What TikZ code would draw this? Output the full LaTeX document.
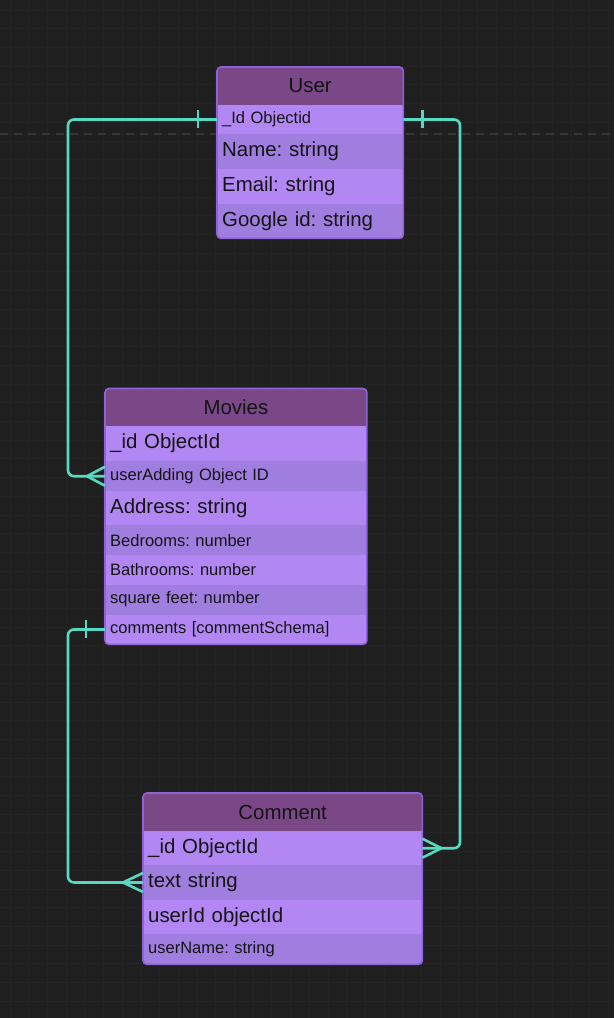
\documentclass[tikz,border=0pt]{standalone}
\usepackage{fontspec}
\setmainfont{Liberation Sans}
\usetikzlibrary{calc}
\definecolor{bg}{HTML}{1F1F1F}
\definecolor{gridc}{HTML}{242424}
\definecolor{dashc}{HTML}{363636}
\definecolor{hdr}{HTML}{7A4787}
\definecolor{rowa}{HTML}{B287F4}
\definecolor{rowb}{HTML}{A07EDF}
\definecolor{bord}{HTML}{8F62DA}
\definecolor{teal}{HTML}{56D9C2}
\definecolor{ink}{HTML}{141414}
\frenchspacing
\begin{document}
\frenchspacing
\begin{tikzpicture}[x=1pt,y=-1pt,
  big/.style={font=\fontsize{20.4}{22}\selectfont\frenchspacing},
  small/.style={font=\fontsize{16.5}{18}\selectfont\frenchspacing},
  hdrbox/.style={fill=hdr, anchor=north west, inner sep=0pt, text=ink, big},
  rowbox/.style={anchor=north west, inner xsep=5pt, inner ysep=0pt, align=left, text=ink},
  ra/.style={rowbox, fill=rowa},
  rb/.style={rowbox, fill=rowb},
  frame/.style={draw=bord, line width=1.6pt, rounded corners=4pt},
  conn/.style={draw=teal, line width=2.6pt, rounded corners=6pt},
  foot/.style={draw=teal, line width=2.6pt},
  tickline/.style={draw=teal, line width=2.6pt}
]
\useasboundingbox (0,0) rectangle (614,1018);
\fill[bg] (0,0) rectangle (614,1018);
\foreach \i in {0,...,33} \draw[gridc, line width=0.8pt] (10+18.7*\i,0) -- ++(0,1018);
\foreach \j in {0,...,54} \draw[gridc, line width=0.8pt] (0,10+18.7*\j) -- ++(614,0);
\draw[dashc, line width=1.6pt, dash pattern=on 8pt off 6pt] (0,134) -- (614,134);

% ---------- User ----------
\begin{scope}
\clip[rounded corners=4pt] (217,67) rectangle (403,238);
\node[hdrbox, minimum width=186pt, minimum height=37.5pt] (uh) at (217,67) {User};
\node[ra, small, text width=176pt, minimum height=29.5pt] (uid) at (217,104.5) {\_Id Objectid};
\node[rb, big, text width=176pt, minimum height=35pt] (unm) at (217,134) {Name: string};
\node[ra, big, text width=176pt, minimum height=34.5pt] (uem) at (217,169) {Email: string};
\node[rb, big, text width=176pt, minimum height=34.5pt] (ugo) at (217,203.5) {Google id: string};
\end{scope}
\draw[frame] (uh.north west) rectangle (ugo.south east);

% ---------- Movies ----------
\begin{scope}
\clip[rounded corners=4pt] (105,388.5) rectangle (366.5,644);
\node[hdrbox, minimum width=261.5pt, minimum height=37.5pt] (mh) at (105,388.5) {Movies};
\node[ra, big, text width=251.5pt, minimum height=35pt] (mid) at (105,426) {\_id ObjectId};
\node[rb, small, text width=251.5pt, minimum height=30pt] (mua) at (105,461) {userAdding Object ID};
\node[ra, big, text width=251.5pt, minimum height=34pt] (mad) at (105,491) {Address: string};
\node[rb, small, text width=251.5pt, minimum height=30pt] (mbe) at (105,525) {Bedrooms: number};
\node[ra, small, text width=251.5pt, minimum height=29.5pt] (mba) at (105,555) {Bathrooms: number};
\node[rb, small, text width=251.5pt, minimum height=30pt] (msq) at (105,584.5) {square feet: number};
\node[ra, small, text width=251.5pt, minimum height=29.5pt] (mcm) at (105,614.5) {comments [commentSchema]};
\end{scope}
\draw[frame] (mh.north west) rectangle (mcm.south east);

% ---------- Comment ----------
\begin{scope}
\clip[rounded corners=4pt] (143,793) rectangle (422,964);
\node[hdrbox, minimum width=279pt, minimum height=38pt] (ch) at (143,793) {Comment};
\node[ra, big, text width=269pt, minimum height=34pt] (cid) at (143,831) {\_id ObjectId};
\node[rb, big, text width=269pt, minimum height=34.5pt] (ctx) at (143,865) {text string};
\node[ra, big, text width=269pt, minimum height=34.5pt] (cui) at (143,899.5) {userId objectId};
\node[rb, small, text width=269pt, minimum height=30pt] (cun) at (143,934) {userName: string};
\end{scope}
\draw[frame] (ch.north west) rectangle (cun.south east);

% ---------- connectors ----------
\coordinate (kl) at (68,0);
\coordinate (kr) at (460,0);
% User _Id -> Movies userAdding
\draw[conn] (uid.west) -| (kl |- mua.west) -- (mua.west);
\draw[tickline] ($(uid.west)+(-19,-9)$) -- ($(uid.west)+(-19,9)$);
\draw[foot] ($(mua.west)+(0,-9.5)$) -- ($(mua.west)+(-18,0)$) -- ($(mua.west)+(0,9.5)$);
% User _Id -> Comment _id
\draw[conn] (uid.west -| uh.east) -| (kr |- cid.east) -- (cid.east);
\draw[tickline] ($(uid.west -| uh.east)+(19,-9)$) -- ($(uid.west -| uh.east)+(19,9)$);
\draw[foot] ($(cid.east)+(0,-9.5)$) -- ($(cid.east)+(19,0)$) -- ($(cid.east)+(0,9.5)$);
% Movies comments -> Comment text
\draw[conn] (mcm.west) -| (kl |- ctx.west) -- (ctx.west);
\draw[tickline] ($(mcm.west)+(-19,-9)$) -- ($(mcm.west)+(-19,9)$);
\draw[foot] ($(ctx.west)+(0,-9.5)$) -- ($(ctx.west)+(-20,0)$) -- ($(ctx.west)+(0,9.5)$);
\end{tikzpicture}
\end{document}
